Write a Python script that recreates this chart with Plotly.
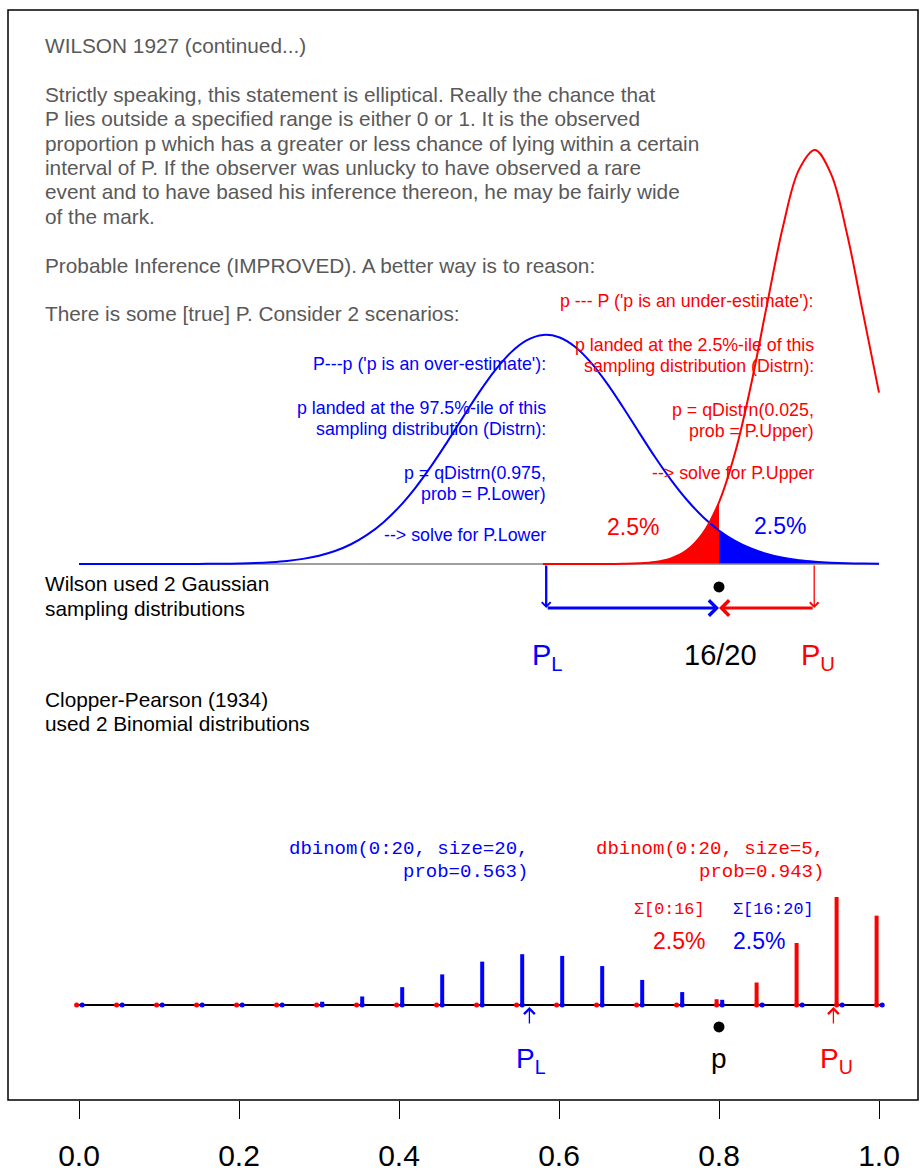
import numpy as np
import plotly.graph_objects as go

# ---- data ----
# x grid for the Gaussian curves (0 to 1 in steps of 0.02)
x_grid = np.linspace(0, 1, 51)
# Gaussian sampling density centred at P.Lower (blue), over the whole grid
blue_density = [0.000, 0.000, 0.000, 0.000, 0.000, 0.000, 0.001, 0.001, 0.002, 0.004,
                0.008, 0.015, 0.028, 0.048, 0.081, 0.131, 0.205, 0.312, 0.459, 0.653,
                0.898, 1.196, 1.542, 1.922, 2.319, 2.707, 3.058, 3.343, 3.535, 3.618,
                3.582, 3.432, 3.182, 2.854, 2.477, 2.080, 1.690, 1.329, 1.011, 0.744,
                0.530, 0.365, 0.244, 0.157, 0.098, 0.059, 0.035, 0.020, 0.011, 0.006,
                0.003]
# Gaussian sampling density centred at P.Upper (red), from x = 0.58 to 1.0
red_x = x_grid[29:]
red_density = [0.000, 0.000, 0.000, 0.000, 0.001, 0.003, 0.010, 0.032, 0.088, 0.219,
               0.488, 0.975, 1.752, 2.827, 4.097, 5.331, 6.230, 6.539, 6.164, 5.218,
               3.967, 2.708]

# Binomial probabilities for 0:20 successes out of 20
k = np.arange(21)
blue_pmf = [0.0000, 0.0000, 0.0000, 0.0002, 0.0009, 0.0035, 0.0114, 0.0295, 0.0617, 0.1059,
            0.1501, 0.1758, 0.1699, 0.1347, 0.0868, 0.0447, 0.0180, 0.0055, 0.0012, 0.0002,
            0.0000]
red_pmf = [0.0000, 0.0000, 0.0000, 0.0000, 0.0000, 0.0000, 0.0000, 0.0000, 0.0000, 0.0000,
           0.0000, 0.0000, 0.0000, 0.0001, 0.0006, 0.0039, 0.0200, 0.0778, 0.2146, 0.3738,
           0.3092]

p_hat = 16 / 20
wilson_lower, wilson_upper = 0.584, 0.919
cp_lower, cp_upper = 0.563, 0.943
tick_vals = [0.0, 0.2, 0.4, 0.6, 0.8, 1.0]
tick_text = ["0.0", "0.2", "0.4", "0.6", "0.8", "1.0"]

# ---- styling ----
BLUE, RED, GRAY_TXT = "#0000ff", "#ff0000", "#595959"
SANS = "Liberation Sans, Arial, sans-serif"
MONO = "Liberation Mono, Courier New, monospace"
W, H = 920, 1171
L, R, T, B = 8, 2, 10, 71
plot_w, plot_h = W - L - R, H - T - B

# vertical scales: pixel row of each baseline and pixels per unit
top_base, top_scale = 564, 63.3      # density panel
bot_base, bot_scale = 1005, 289      # probability panel


def y_range(base, scale):
    return [(base - (H - B)) / scale, (base - T) / scale]


def px(x):
    return (x - L) / plot_w


def py(y):
    return ((H - B) - y) / plot_h


fig = go.Figure()

# filled 2.5% tails
n_red_fill = 12  # 0.58 .. 0.80
fig.add_trace(go.Scatter(x=red_x[:n_red_fill], y=red_density[:n_red_fill], mode="lines",
                         line=dict(width=0, shape="spline"), fill="tozeroy", fillcolor=RED))
fig.add_trace(go.Scatter(x=x_grid[40:], y=blue_density[40:], mode="lines",
                         line=dict(width=0, shape="spline"), fill="tozeroy", fillcolor=BLUE))
# baseline + curves
fig.add_trace(go.Scatter(x=[0, 1], y=[0, 0], mode="lines", line=dict(color="#808080", width=1.5)))
fig.add_trace(go.Scatter(x=x_grid, y=blue_density, mode="lines",
                         line=dict(color=BLUE, width=2, shape="spline")))
fig.add_trace(go.Scatter(x=red_x, y=red_density, mode="lines",
                         line=dict(color=RED, width=2, shape="spline")))
arrow_y = -0.695
fig.add_trace(go.Scatter(x=[p_hat], y=[-0.363], mode="markers",
                         marker=dict(color="black", size=11)))

# binomial panel
fig.add_trace(go.Scatter(x=[-0.003, 1.004], y=[0, 0], mode="lines", yaxis="y2",
                         line=dict(color="black", width=2)))


def sticks(xs, ys):
    sx, sy = [], []
    for a, b in zip(xs, ys):
        sx += [a, a, None]
        sy += [0, b, None]
    return sx, sy


red_pos = k / 20 - 0.003
blue_pos = k / 20 + 0.004
for pos, pmf, col in [(red_pos, red_pmf, RED), (blue_pos, blue_pmf, BLUE)]:
    sx, sy = sticks(pos, pmf)
    fig.add_trace(go.Scatter(x=sx, y=sy, mode="lines", yaxis="y2",
                             line=dict(color=col, width=4)))
    fig.add_trace(go.Scatter(x=pos, y=[0] * len(pos), mode="markers", yaxis="y2",
                             marker=dict(color=col, size=5)))
fig.add_trace(go.Scatter(x=[p_hat], y=[-0.076], mode="markers", yaxis="y2",
                         marker=dict(color="black", size=11)))


def arrow(x0, y0, x1, y1, color, width, size, yref="y"):
    fig.add_annotation(x=x1, y=y1, ax=x0, ay=y0, xref="x", yref=yref, axref="x", ayref=yref,
                       text="", showarrow=True, arrowhead=4, arrowsize=size,
                       arrowwidth=width, arrowcolor=color, standoff=0)


arrow(wilson_lower, 0, wilson_lower, arrow_y, BLUE, 2.3, 0.75)
arrow(wilson_lower, arrow_y, p_hat, arrow_y, BLUE, 3, 1)
arrow(wilson_upper, 0, wilson_upper, arrow_y, RED, 1.3, 1.3)
arrow(wilson_upper, arrow_y, p_hat, arrow_y, RED, 3, 1)
arrow(cp_lower, -0.069, cp_lower, -0.007, BLUE, 1.3, 1.6, "y2")
arrow(cp_upper, -0.069, cp_upper, -0.007, RED, 1.3, 1.6, "y2")


def label(text, x, y, size, color="black", anchor="left", family=SANS):
    # annotation boxes carry ~2px padding; compensate so text edges land on x
    x = x - 2 if anchor == "left" else (x + 2 if anchor == "right" else x)
    fig.add_annotation(x=px(x), y=py(y), xref="paper", yref="paper", text=text,
                       showarrow=False, xanchor=anchor, yanchor="middle",
                       font=dict(family=family, size=size, color=color))


gray_lines = [
    ("WILSON 1927 (continued...)", 45.5),
    ("Strictly speaking, this statement is elliptical. Really the chance that", 94.3),
    ("P lies outside a specified range is either 0 or 1. It is the observed", 118.7),
    ("proportion p which has a greater or less chance of lying within a certain", 143.1),
    ("interval of P. If the observer was unlucky to have observed a rare", 167.5),
    ("event and to have based his inference thereon, he may be fairly wide", 191.9),
    ("of the mark.", 216.3),
    ("Probable Inference (IMPROVED). A better way is to reason:", 265.1),
    ("There is some [true] P. Consider 2 scenarios:", 313.9),
]
for txt, y in gray_lines:
    label(txt, 45, y, 20.8, GRAY_TXT)

blue_lines = [
    ("P---p ('p is an over-estimate'):", 364),
    ("p landed at the 97.5%-ile of this", 408),
    ("sampling distribution (Distrn):", 429),
    ("p = qDistrn(0.975,", 473),
    ("prob = P.Lower)", 494),
    ("--> solve for P.Lower", 535),
]
for txt, y in blue_lines:
    label(txt, 546, y, 17.8, BLUE, "right")

red_lines = [
    ("p --- P ('p is an under-estimate'):", 301),
    ("p landed at the 2.5%-ile of this", 345),
    ("sampling distribution (Distrn):", 366),
    ("p = qDistrn(0.025,", 410),
    ("prob = P.Upper)", 431),
    ("--> solve for P.Upper", 473),
]
for txt, y in red_lines:
    label(txt, 814, y, 17.8, RED, "right")

label("2.5%", 633, 527, 23, RED, "center")
label("2.5%", 780, 526, 23, BLUE, "center")

label("Wilson used 2 Gaussian", 45, 583, 20.8)
label("sampling distributions", 45, 608, 20.8)
label("P<sub>L</sub>", 547, 657, 29, BLUE, "center")
label("16/20", 720, 655, 29, "black", "center")
label("P<sub>U</sub>", 818, 657, 29, RED, "center")

label("Clopper-Pearson (1934)", 45, 699, 20.8)
label("used 2 Binomial distributions", 45, 723, 20.8)

label("dbinom(0:20, size=20,", 528, 849, 19, BLUE, "right", MONO)
label("prob=0.563)", 528, 872, 19, BLUE, "right", MONO)
label("dbinom(0:20, size=5,", 824, 849, 19, RED, "right", MONO)
label("prob=0.943)", 824, 872, 19, RED, "right", MONO)
label("\u03a3[0:16]", 705, 910, 16.8, RED, "right", MONO)
label("\u03a3[16:20]", 733, 910, 16.8, BLUE, "left", MONO)
label("2.5%", 705, 941, 23, RED, "right")
label("2.5%", 733, 941, 23, BLUE, "left")

label("P<sub>L</sub>", 531, 1060, 28, BLUE, "center")
label("p", 719, 1058, 28, "black", "center")
label("P<sub>U</sub>", 836, 1060, 28, RED, "center")

fig.add_shape(type="rect", xref="paper", yref="paper", x0=0, x1=1, y0=0, y1=1,
              line=dict(color="black", width=1.5))

fig.update_layout(
    width=W, height=H, margin=dict(l=L, r=R, t=T, b=B, autoexpand=False),
    paper_bgcolor="white", plot_bgcolor="white", showlegend=False,
    xaxis=dict(range=[(L - 79) / 800, (W - R - 79) / 800], tickvals=tick_vals, ticktext=tick_text,
               ticks="outside", ticklen=18, tickwidth=1, tickcolor="black",
               showline=False, showgrid=False, zeroline=False, ticklabelstandoff=11,
               tickfont=dict(family=SANS, size=30, color="black")),
    yaxis=dict(range=y_range(top_base, top_scale), visible=False),
    yaxis2=dict(range=y_range(bot_base, bot_scale), visible=False, overlaying="y"),
)

# the default page adds an 8px body margin; remove it so the figure fills the window
fig.write_html("out.html", config={"displayModeBar": False},
               post_script="document.body.style.margin='0';")
